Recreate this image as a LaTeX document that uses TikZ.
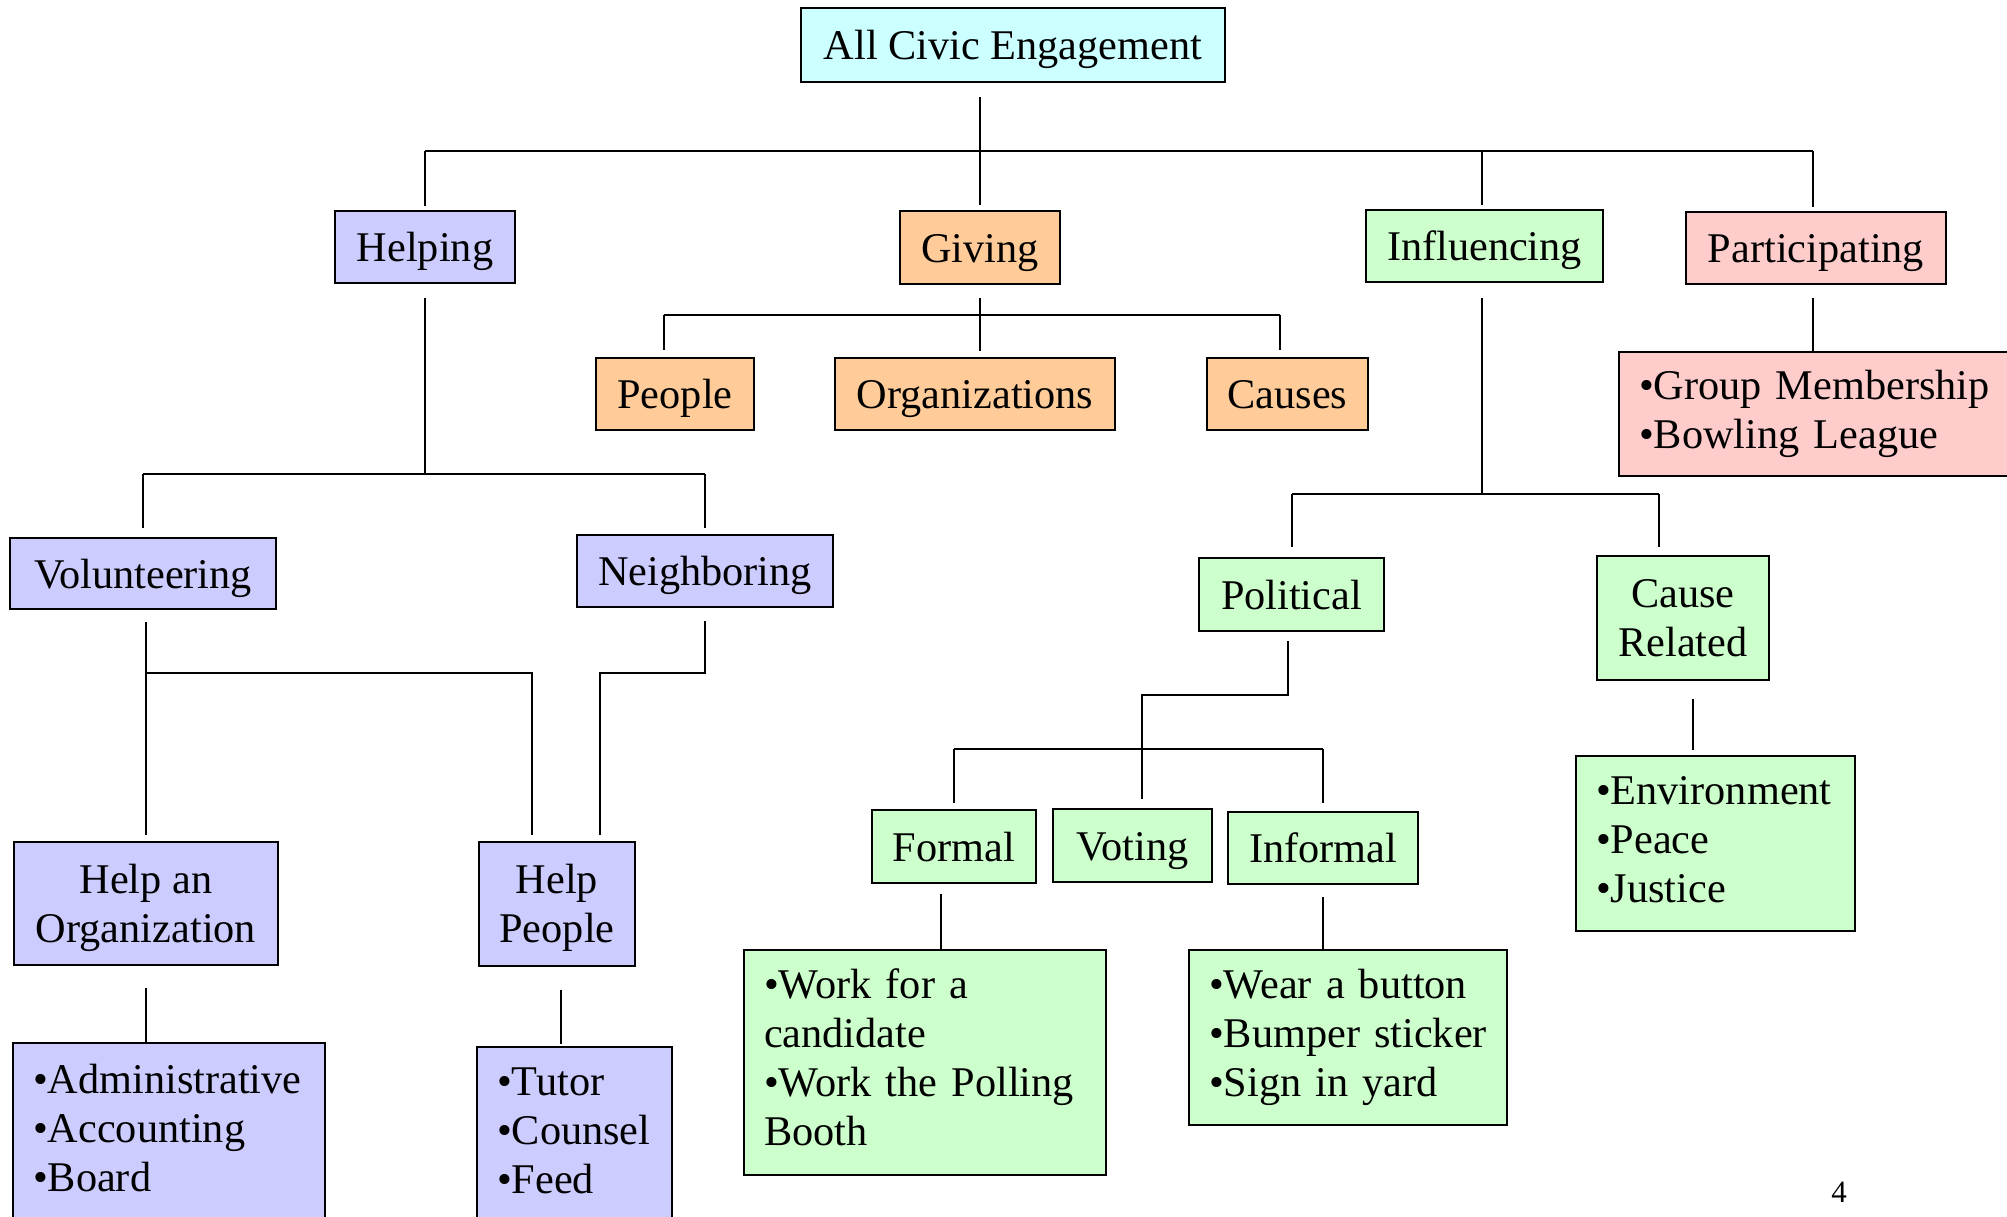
\documentclass[tikz,border=0pt]{standalone}
\usepackage{fontspec}
\setmainfont{Liberation Serif}
\definecolor{rootcyan}{HTML}{CCFFFF}
\definecolor{giveorange}{HTML}{FFCC99}
\definecolor{helpblue}{HTML}{CCCCFF}
\definecolor{inflgreen}{HTML}{CCFFCC}
\definecolor{partpink}{HTML}{FFCCCC}
\begin{document}
\begin{tikzpicture}[x=1pt, y=-1pt,
    box/.style={draw, line width=2.4pt, inner sep=0pt, font=\fontsize{42.3}{49}\selectfont},
    single/.style={box, text height=38pt, text depth=9pt},
    multi/.style={box, align=center, text depth=1pt, execute at begin node=\strut},
    listbox/.style={box, align=left, inner xsep=20pt, execute at begin node=\strut, execute at end node=\strut},
    link/.style={line width=2pt}]
  \useasboundingbox (0,0) rectangle (2007,1217);
  \clip (0,0) rectangle (2007,1217);

  \node[single, fill=rootcyan, minimum width=424pt, minimum height=74pt] (root) at (1013,45) {All Civic Engagement};
  \node[single, fill=helpblue, minimum width=180pt, minimum height=72pt] (helping) at (425,247) {Helping};
  \node[single, fill=giveorange, minimum width=160pt, minimum height=73pt] (giving) at (980,247.5) {Giving};
  \node[single, fill=inflgreen, minimum width=237pt, minimum height=72pt] (influencing) at (1484.5,246) {Influencing};
  \node[single, fill=partpink, minimum width=260pt, minimum height=72pt] (participating) at (1816,248) {Participating};

  \node[single, fill=giveorange, minimum width=158pt, minimum height=72pt] (people) at (675,394) {People};
  \node[single, fill=giveorange, minimum width=280pt, minimum height=72pt] (organizations) at (975,394) {Organizations};
  \node[single, fill=giveorange, minimum width=161pt, minimum height=72pt] (causes) at (1287.5,394) {Causes};
  \node[listbox, fill=partpink, minimum width=411pt, text width=371pt, minimum height=124pt] (membership) at (1824.5,414) {•Group Membership\\•Bowling League};

  \node[single, fill=helpblue, minimum width=266pt, minimum height=71pt] (volunteering) at (143,573.5) {Volunteering};
  \node[single, fill=helpblue, minimum width=256pt, minimum height=72pt] (neighboring) at (705,571) {Neighboring};
  \node[multi, fill=helpblue, minimum width=264pt, minimum height=123pt] (helporg) at (146,903.5) {Help an\\Organization};
  \node[multi, fill=helpblue, minimum width=156pt, minimum height=124pt] (helppeople) at (557,904) {Help\\People};
  \node[listbox, fill=helpblue, minimum width=312pt, text width=272pt, minimum height=179pt] (orgtasks) at (169,1132.5) {•Administrative\\•Accounting\\•Board};
  \node[listbox, fill=helpblue, minimum width=195pt, text width=155pt, minimum height=175pt] (peopletasks) at (574.5,1134.5) {•Tutor\\•Counsel\\•Feed};

  \node[single, fill=inflgreen, minimum width=185pt, minimum height=73pt] (political) at (1291.5,594.5) {Political};
  \node[multi, fill=inflgreen, minimum width=172pt, minimum height=124pt] (causerelated) at (1683,618) {Cause\\Related};
  \node[single, fill=inflgreen, minimum width=164pt, minimum height=73pt] (formal) at (954,846.5) {Formal};
  \node[single, fill=inflgreen, minimum width=159pt, minimum height=73pt] (voting) at (1132.5,845.5) {Voting};
  \node[single, fill=inflgreen, minimum width=190pt, minimum height=72pt] (informal) at (1323,848) {Informal};
  \node[listbox, fill=inflgreen, minimum width=362pt, text width=322pt, minimum height=225pt] (formalacts) at (925,1062.5) {•Work for a\\candidate\\•Work the Polling\\Booth};
  \node[listbox, fill=inflgreen, minimum width=318pt, text width=278pt, minimum height=175pt] (informalacts) at (1348,1037.5) {•Wear a button\\•Bumper sticker\\•Sign in yard};
  \node[listbox, fill=inflgreen, minimum width=279pt, text width=239pt, minimum height=175pt] (causeacts) at (1715.5,843.5) {•Environment\\•Peace\\•Justice};

  \node[font=\fontsize{31}{36}\selectfont, inner sep=0pt] (pagenum) at (1839,1192.5) {4};

  \coordinate (topbus) at (0,151);
  \coordinate (givebus) at (0,315);
  \coordinate (helpbus) at (0,474);
  \coordinate (volbus) at (0,673);
  \coordinate (inflbus) at (0,494);
  \coordinate (poljog) at (0,695);
  \coordinate (polbus) at (0,749);

  \draw[link, shorten <=14pt, shorten >=5pt] (root.south -| giving) -- (giving.north);
  \draw[link] (helping |- topbus) -- ([xshift=-3pt]participating.north |- topbus);
  \draw[link, shorten >=4pt] (helping |- topbus) -- (helping.north);
  \draw[link, shorten >=4pt] ([xshift=-2.5pt]influencing.north |- topbus) -- ([xshift=-2.5pt]influencing.north);
  \draw[link, shorten >=4pt] ([xshift=-3pt]participating.north |- topbus) -- ([xshift=-3pt]participating.north);

  \draw[link, shorten <=13pt, shorten >=6pt] (giving.south) -- (giving.south |- organizations.north);
  \draw[link] ([xshift=-11pt]people.north |- givebus) -- ([xshift=-8pt]causes.north |- givebus);
  \draw[link, shorten >=7pt] ([xshift=-11pt]people.north |- givebus) -- ([xshift=-11pt]people.north);
  \draw[link, shorten >=7pt] ([xshift=-8pt]causes.north |- givebus) -- ([xshift=-8pt]causes.north);

  \draw[link, shorten <=13pt] ([xshift=-3pt]participating.south) -- ([xshift=-3pt]participating.south |- membership.north);

  \draw[link, shorten <=14pt] (helping.south) -- (helping.south |- helpbus);
  \draw[link] (volunteering |- helpbus) -- (neighboring |- helpbus);
  \draw[link, shorten >=9pt] (volunteering |- helpbus) -- (volunteering.north);
  \draw[link, shorten >=6pt] (neighboring |- helpbus) -- (neighboring.north);

  \draw[link, shorten <=12pt, shorten >=6pt] (volunteering.south -| helporg) -- (helporg.north);
  \draw[link, shorten >=6pt] (helporg |- volbus) -- ([xshift=-25pt]helppeople.north |- volbus) -- ([xshift=-25pt]helppeople.north);
  \draw[link, shorten <=13pt, shorten >=6pt] (neighboring.south) -- (neighboring.south |- volbus) -- ([xshift=43pt]helppeople.north |- volbus) -- ([xshift=43pt]helppeople.north);

  \draw[link, shorten <=22pt] (helporg.south) -- (helporg.south |- orgtasks.north);
  \draw[link, shorten <=23pt, shorten >=2pt] ([xshift=4pt]helppeople.south) -- ([xshift=4pt]helppeople.south |- peopletasks.north);

  \draw[link, shorten <=15pt] ([xshift=-2.5pt]influencing.south) -- ([xshift=-2.5pt]influencing.south |- inflbus);
  \draw[link] (political |- inflbus) -- ([xshift=-24pt]causerelated.north |- inflbus);
  \draw[link, shorten >=10pt] (political |- inflbus) -- (political.north);
  \draw[link, shorten >=8pt] ([xshift=-24pt]causerelated.north |- inflbus) -- ([xshift=-24pt]causerelated.north);

  \draw[link, shorten <=9pt, shorten >=9pt] ([xshift=-3.5pt]political.south) -- ([xshift=-3.5pt]political.south |- poljog) -- ([xshift=9pt]voting.north |- poljog) -- ([xshift=9pt]voting.north);
  \draw[link] (formal |- polbus) -- (informal |- polbus);
  \draw[link, shorten >=6pt] (formal |- polbus) -- (formal.north);
  \draw[link, shorten >=8pt] (informal |- polbus) -- (informal.north);

  \draw[link, shorten <=10pt] ([xshift=-13pt]formal.south) -- ([xshift=-13pt]formal.south |- formalacts.north);
  \draw[link, shorten <=12pt] (informal.south) -- (informal.south |- informalacts.north);
  \draw[link, shorten <=18pt, shorten >=5pt] ([xshift=10pt]causerelated.south) -- ([xshift=10pt]causerelated.south |- causeacts.north);
\end{tikzpicture}
\end{document}
